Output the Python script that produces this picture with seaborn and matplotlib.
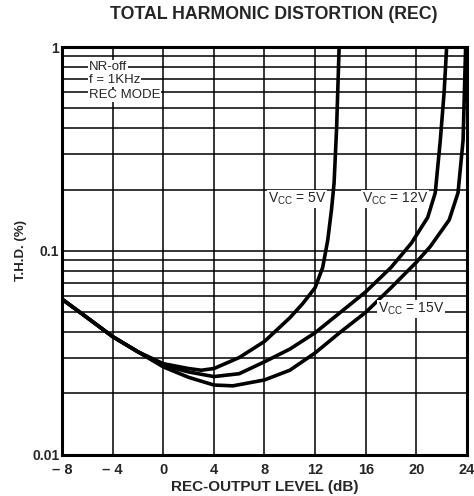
import numpy as np
import pandas as pd
import matplotlib
matplotlib.use("Agg")
import matplotlib.pyplot as plt
import seaborn as sns

# REC output level (dB) and THD (%), one list per supply voltage
level_5v = [-8, -6, -4, -2, 0, 2, 3, 4, 6, 8, 10, 11, 12, 12.6, 13.0, 13.3, 13.5, 13.7, 13.9]
thd_5v = [0.058, 0.047, 0.038, 0.032, 0.028, 0.0265, 0.026, 0.0265, 0.030, 0.036, 0.047,
          0.055, 0.066, 0.083, 0.113, 0.16, 0.215, 0.40, 1.0]

level_12v = [-8, -6, -4, -2, 0, 2, 4, 6, 8, 10, 12, 14, 16, 18, 19.6, 20.9, 21.5, 21.9, 22.2, 22.4]
thd_12v = [0.058, 0.047, 0.038, 0.032, 0.0275, 0.0255, 0.0242, 0.025, 0.0286, 0.033, 0.0397,
           0.050, 0.063, 0.083, 0.109, 0.146, 0.193, 0.35, 0.60, 1.0]

level_15v = [-8, -6, -4, -2, 0, 2, 4, 5.5, 8, 10, 12, 14, 16, 18, 20, 21.1, 22.6, 23.3, 23.7, 23.9]
thd_15v = [0.058, 0.047, 0.038, 0.032, 0.027, 0.024, 0.022, 0.0218, 0.0233, 0.026, 0.0316,
           0.040, 0.050, 0.066, 0.088, 0.105, 0.142, 0.193, 0.35, 1.0]

x_ticks = [-8, -4, 0, 4, 8, 12, 16, 20, 24]
x_tick_labels = ["\u2013 8", "\u2013 4", "0", "4", "8", "12", "16", "20", "24"]
y_ticks = [0.01, 0.1, 1]
y_tick_labels = ["0.01", "0.1", "1"]

df = pd.concat([
    pd.DataFrame({"level": level_5v, "thd": thd_5v, "vcc": "5V"}),
    pd.DataFrame({"level": level_12v, "thd": thd_12v, "vcc": "12V"}),
    pd.DataFrame({"level": level_15v, "thd": thd_15v, "vcc": "15V"}),
])

sns.set_style("white")
plt.rcParams["font.family"] = ["Liberation Sans", "DejaVu Sans"]

fig = plt.figure(figsize=(4.74, 4.96), dpi=100)
ax = fig.add_axes([0.131, 0.083, 0.854, 0.822])

sns.lineplot(data=df, x="level", y="thd", units="vcc", estimator=None, sort=False,
             color="black", linewidth=2.6, ax=ax, zorder=5)

ax.set_yscale("log")
ax.set_xlim(-8, 24)
ax.set_ylim(0.01, 1)

# grid: every 4 dB vertically, every log minor step horizontally
ax.set_xticks(x_ticks)
ax.set_xticklabels(x_tick_labels, fontweight="bold", fontsize=10.5)
ax.set_yticks(y_ticks)
ax.set_yticklabels(y_tick_labels, fontweight="bold", fontsize=10)
ax.yaxis.set_minor_locator(matplotlib.ticker.LogLocator(base=10, subs=np.arange(2, 10)))
ax.yaxis.set_minor_formatter(matplotlib.ticker.NullFormatter())
ax.grid(True, which="major", color="black", linewidth=1.1)
ax.grid(True, which="minor", axis="y", color="black", linewidth=1.1)
ax.tick_params(which="both", length=0)
ax.tick_params(axis="x", pad=6)
ax.tick_params(axis="y", pad=2)
for s in ax.spines.values():
    s.set_linewidth(2.2)
    s.set_color("black")

ax.set_xlabel("REC-OUTPUT LEVEL (dB)", fontweight="bold", fontsize=11, labelpad=2)
ax.set_ylabel("T.H.D. (%)", fontweight="bold", fontsize=9.5, labelpad=4)
fig.suptitle("TOTAL HARMONIC DISTORTION (REC)", fontweight="bold", fontsize=12.8,
             x=0.577, y=0.987)

box = dict(facecolor="white", edgecolor="none", pad=0.5)
for txt, yv in [("NR-off", 0.80), ("f = 1KHz", 0.69), ("REC MODE", 0.58)]:
    ax.text(-5.9, yv, txt, fontsize=9.5, ha="left", va="center", bbox=box, zorder=6)

ax.text(10.6, 0.18, "$\\mathregular{V_{CC}}$ = 5V", fontsize=10, ha="center", va="center",
        bbox=box, zorder=6)
ax.text(18.3, 0.18, "$\\mathregular{V_{CC}}$ = 12V", fontsize=10, ha="center", va="center",
        bbox=box, zorder=6)
ax.text(19.6, 0.052, "$\\mathregular{V_{CC}}$ = 15V", fontsize=10, ha="center", va="center",
        bbox=box, zorder=6)

fig.savefig("out.png", dpi=100)
